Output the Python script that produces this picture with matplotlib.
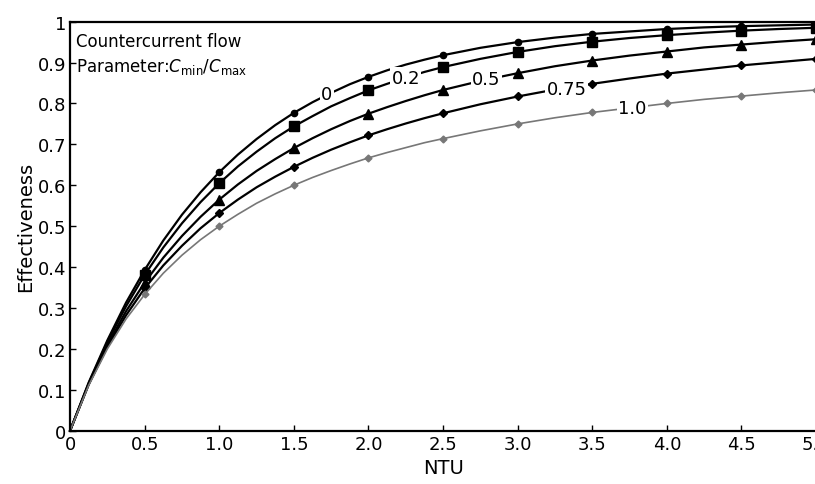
import matplotlib
matplotlib.use("Agg")
import matplotlib.pyplot as plt

# NTU values (denser where the curves bend most)
ntu = [0, 0.125, 0.25, 0.375, 0.5, 0.625, 0.75, 0.875, 1.0, 1.125, 1.25, 1.375,
       1.5, 1.625, 1.75, 1.875, 2.0, 2.125, 2.25, 2.375, 2.5,
       2.75, 3.0, 3.25, 3.5, 3.75, 4.0, 4.25, 4.5, 4.75, 5.0]

# effectiveness, one list per Cmin/Cmax
eff_0 = [0, 0.118, 0.221, 0.313, 0.393, 0.465, 0.528, 0.583, 0.632, 0.675, 0.713, 0.747,
         0.777, 0.803, 0.826, 0.847, 0.865, 0.881, 0.895, 0.907, 0.918,
         0.936, 0.950, 0.961, 0.970, 0.976, 0.982, 0.986, 0.989, 0.991, 0.993]
eff_02 = [0, 0.116, 0.217, 0.304, 0.381, 0.448, 0.507, 0.559, 0.605, 0.646, 0.682, 0.715,
          0.744, 0.769, 0.793, 0.813, 0.832, 0.848, 0.863, 0.877, 0.889,
          0.909, 0.926, 0.940, 0.951, 0.960, 0.967, 0.973, 0.978, 0.982, 0.985]
eff_05 = [0, 0.114, 0.210, 0.292, 0.362, 0.423, 0.476, 0.523, 0.565, 0.602, 0.635, 0.664,
          0.691, 0.715, 0.737, 0.757, 0.775, 0.791, 0.806, 0.820, 0.833,
          0.855, 0.874, 0.891, 0.905, 0.917, 0.927, 0.937, 0.944, 0.951, 0.957]
eff_075 = [0, 0.113, 0.205, 0.282, 0.348, 0.404, 0.452, 0.495, 0.532, 0.565, 0.595, 0.621,
           0.645, 0.667, 0.687, 0.705, 0.722, 0.737, 0.751, 0.764, 0.776,
           0.798, 0.817, 0.834, 0.848, 0.861, 0.873, 0.883, 0.893, 0.901, 0.909]
eff_1 = [0, 0.111, 0.200, 0.273, 0.333, 0.385, 0.429, 0.467, 0.500, 0.529, 0.556, 0.579,
         0.600, 0.619, 0.636, 0.652, 0.667, 0.680, 0.692, 0.704, 0.714,
         0.733, 0.750, 0.765, 0.778, 0.789, 0.800, 0.810, 0.818, 0.826, 0.833]

# inline label text and where it sits (NTU, effectiveness)
labels = ["0", "0.2", "0.5", "0.75", "1.0"]
label_x = [1.72, 2.25, 2.79, 3.33, 3.77]
label_y = [0.823, 0.863, 0.860, 0.835, 0.790]

xticks = [0, 0.5, 1.0, 1.5, 2.0, 2.5, 3.0, 3.5, 4.0, 4.5, 5.0]
xticklabels = ["0", "0.5", "1.0", "1.5", "2.0", "2.5", "3.0", "3.5", "4.0", "4.5", "5.0"]
yticks = [0, 0.1, 0.2, 0.3, 0.4, 0.5, 0.6, 0.7, 0.8, 0.9, 1.0]
yticklabels = ["0", "0.1", "0.2", "0.3", "0.4", "0.5", "0.6", "0.7", "0.8", "0.9", "1"]

fig = plt.figure(figsize=(8.15, 4.85), dpi=100)
ax = fig.add_axes([0.086, 0.110, 0.9153, 0.8433])

# markers only at every 0.5 NTU
every = [i for i, n in enumerate(ntu) if n > 0 and (n * 2) % 1 == 0]
ax.plot(ntu, eff_0, color="black", lw=1.6, marker="o", ms=4.5, markevery=every, clip_on=False)
ax.plot(ntu, eff_02, color="black", lw=1.6, marker="s", ms=6.5, markevery=every, clip_on=False)
ax.plot(ntu, eff_05, color="black", lw=1.6, marker="^", ms=6.5, markevery=every, clip_on=False)
ax.plot(ntu, eff_075, color="black", lw=1.6, marker="D", ms=4, markevery=every, clip_on=False)
ax.plot(ntu, eff_1, color="#777777", lw=1.2, marker="D", ms=3.5, markevery=every, clip_on=False)

for t, x, y in zip(labels, label_x, label_y):
    ax.text(x, y, t, fontsize=13, ha="center", va="center", zorder=5,
            bbox=dict(facecolor="white", edgecolor="none", pad=1.0))

ax.text(0.04, 0.975, "Countercurrent flow", fontsize=12, va="top", ha="left")
ax.text(0.04, 0.915, r"Parameter:$\mathit{C}_{\mathrm{min}}/\mathit{C}_{\mathrm{max}}$",
        fontsize=12, va="top", ha="left")

ax.set_xlim(0, 5.0)
ax.set_ylim(0, 1)
ax.set_xticks(xticks)
ax.set_xticklabels(xticklabels)
ax.set_yticks(yticks)
ax.set_yticklabels(yticklabels)
ax.tick_params(direction="in", length=4, width=1, labelsize=13, pad=3)
ax.spines["right"].set_visible(False)
for s in ["left", "bottom", "top"]:
    ax.spines[s].set_linewidth(1.6)

ax.set_xlabel("NTU", fontsize=14, labelpad=4)
ax.set_ylabel("Effectiveness", fontsize=14, labelpad=2)

fig.savefig("out.png", dpi=100)
